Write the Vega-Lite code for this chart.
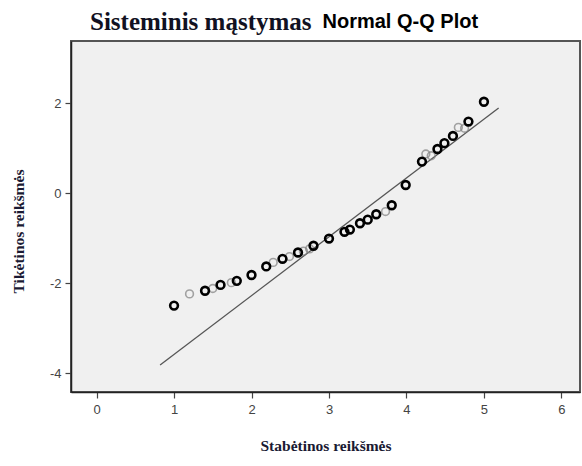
{
  "$schema": "https://vega.github.io/schema/vega-lite/v6.json",
  "width": 509,
  "height": 351,
  "autosize": "none",
  "padding": {"left": 71, "top": 41, "right": 2, "bottom": 74},
  "background": "white",
  "title": {
    "text": "Sisteminis mąstymas",
    "anchor": "start",
    "frame": "group",
    "dx": 19,
    "font": "Liberation Serif",
    "fontSize": 25,
    "fontWeight": "bold",
    "color": "#111122",
    "offset": -24
  },
  "resolve": {"axis": {"x": "independent"}},
  "config": {
    "view": {"fill": "#f0f0f0", "stroke": "#555555", "strokeWidth": 2},
    "axis": {
      "grid": false,
      "domainColor": "#222222",
      "domainWidth": 1.5,
      "tickColor": "#444444",
      "tickSize": 6,
      "tickWidth": 1.2,
      "labelFont": "Liberation Sans",
      "labelFontSize": 13,
      "labelColor": "#444444",
      "titleFont": "Liberation Serif",
      "titleFontSize": 15.5,
      "titleFontWeight": "bold",
      "titleColor": "#1a1a33"
    }
  },
  "datasets": {
    "pts": [
      {"expected": 1.00, "observed": -2.50, "tone": "dark"},
      {"expected": 1.20, "observed": -2.24, "tone": "gray"},
      {"expected": 1.40, "observed": -2.17, "tone": "dark"},
      {"expected": 1.50, "observed": -2.12, "tone": "gray"},
      {"expected": 1.60, "observed": -2.04, "tone": "dark"},
      {"expected": 1.74, "observed": -1.99, "tone": "gray"},
      {"expected": 1.81, "observed": -1.95, "tone": "dark"},
      {"expected": 2.00, "observed": -1.82, "tone": "dark"},
      {"expected": 2.19, "observed": -1.63, "tone": "dark"},
      {"expected": 2.28, "observed": -1.54, "tone": "gray"},
      {"expected": 2.40, "observed": -1.46, "tone": "dark"},
      {"expected": 2.49, "observed": -1.41, "tone": "gray"},
      {"expected": 2.60, "observed": -1.32, "tone": "dark"},
      {"expected": 2.67, "observed": -1.29, "tone": "gray"},
      {"expected": 2.75, "observed": -1.24, "tone": "gray"},
      {"expected": 2.80, "observed": -1.17, "tone": "dark"},
      {"expected": 3.00, "observed": -1.01, "tone": "dark"},
      {"expected": 3.20, "observed": -0.86, "tone": "dark"},
      {"expected": 3.27, "observed": -0.81, "tone": "dark"},
      {"expected": 3.40, "observed": -0.67, "tone": "dark"},
      {"expected": 3.50, "observed": -0.59, "tone": "dark"},
      {"expected": 3.61, "observed": -0.47, "tone": "dark"},
      {"expected": 3.73, "observed": -0.41, "tone": "gray"},
      {"expected": 3.81, "observed": -0.27, "tone": "dark"},
      {"expected": 3.99, "observed": 0.18, "tone": "dark"},
      {"expected": 4.20, "observed": 0.70, "tone": "dark"},
      {"expected": 4.25, "observed": 0.87, "tone": "gray"},
      {"expected": 4.32, "observed": 0.83, "tone": "gray"},
      {"expected": 4.40, "observed": 0.98, "tone": "dark"},
      {"expected": 4.49, "observed": 1.11, "tone": "dark"},
      {"expected": 4.60, "observed": 1.27, "tone": "dark"},
      {"expected": 4.67, "observed": 1.46, "tone": "gray"},
      {"expected": 4.75, "observed": 1.44, "tone": "gray"},
      {"expected": 4.80, "observed": 1.59, "tone": "dark"},
      {"expected": 5.00, "observed": 2.03, "tone": "dark"}
    ],
    "ref": [
      {"expected": 0.82, "observed": -3.82},
      {"expected": 5.19, "observed": 1.89}
    ]
  },
  "layer": [
    {
      "data": {"name": "ref"},
      "mark": {"type": "line", "color": "#555555", "strokeWidth": 1.3},
      "encoding": {
        "x": {
          "field": "expected", "type": "quantitative",
          "scale": {"domain": [-0.33, 6.24], "nice": false, "zero": false},
          "axis": {"values": [0, 1, 2, 3, 4, 5, 6], "labelExpr": "toString(datum.value)", "title": "Stabėtinos reikšmės", "labelPadding": 5, "titleY": 46, "titleBaseline": "top"}
        },
        "y": {
          "field": "observed", "type": "quantitative",
          "scale": {"domain": [-4.42, 3.38], "nice": false, "zero": false},
          "axis": {"values": [-4, -2, 0, 2], "labelExpr": "toString(datum.value)", "title": "Tikėtinos reikšmės", "labelPadding": 4, "titleX": -53, "titleY": 190, "titleAngle": -90, "titleAlign": "center", "titleBaseline": "middle"}
        }
      }
    },
    {
      "data": {"name": "pts"},
      "transform": [{"filter": "datum.tone == 'gray'"}],
      "mark": {"type": "point", "shape": "circle", "filled": false, "size": 60, "strokeWidth": 1.6, "color": "#808080"},
      "encoding": {
        "x": {"field": "expected", "type": "quantitative", "axis": null},
        "y": {"field": "observed", "type": "quantitative"}
      }
    },
    {
      "data": {"name": "pts"},
      "transform": [{"filter": "datum.tone == 'dark'"}],
      "mark": {"type": "point", "shape": "circle", "filled": false, "size": 60, "strokeWidth": 2.6, "color": "#000000", "opacity": 1},
      "encoding": {
        "x": {
          "field": "expected", "type": "quantitative",
          "axis": {"orient": "top", "domain": false, "ticks": false, "labels": false, "title": "Normal Q-Q Plot", "titleFont": "Liberation Sans", "titleFontSize": 20, "titleFontWeight": "bold", "titleColor": "#000000", "titleAlign": "left", "titleAnchor": "start", "titleX": 251, "titleY": -14, "titleBaseline": "alphabetic"}
        },
        "y": {"field": "observed", "type": "quantitative"}
      }
    }
  ]
}
